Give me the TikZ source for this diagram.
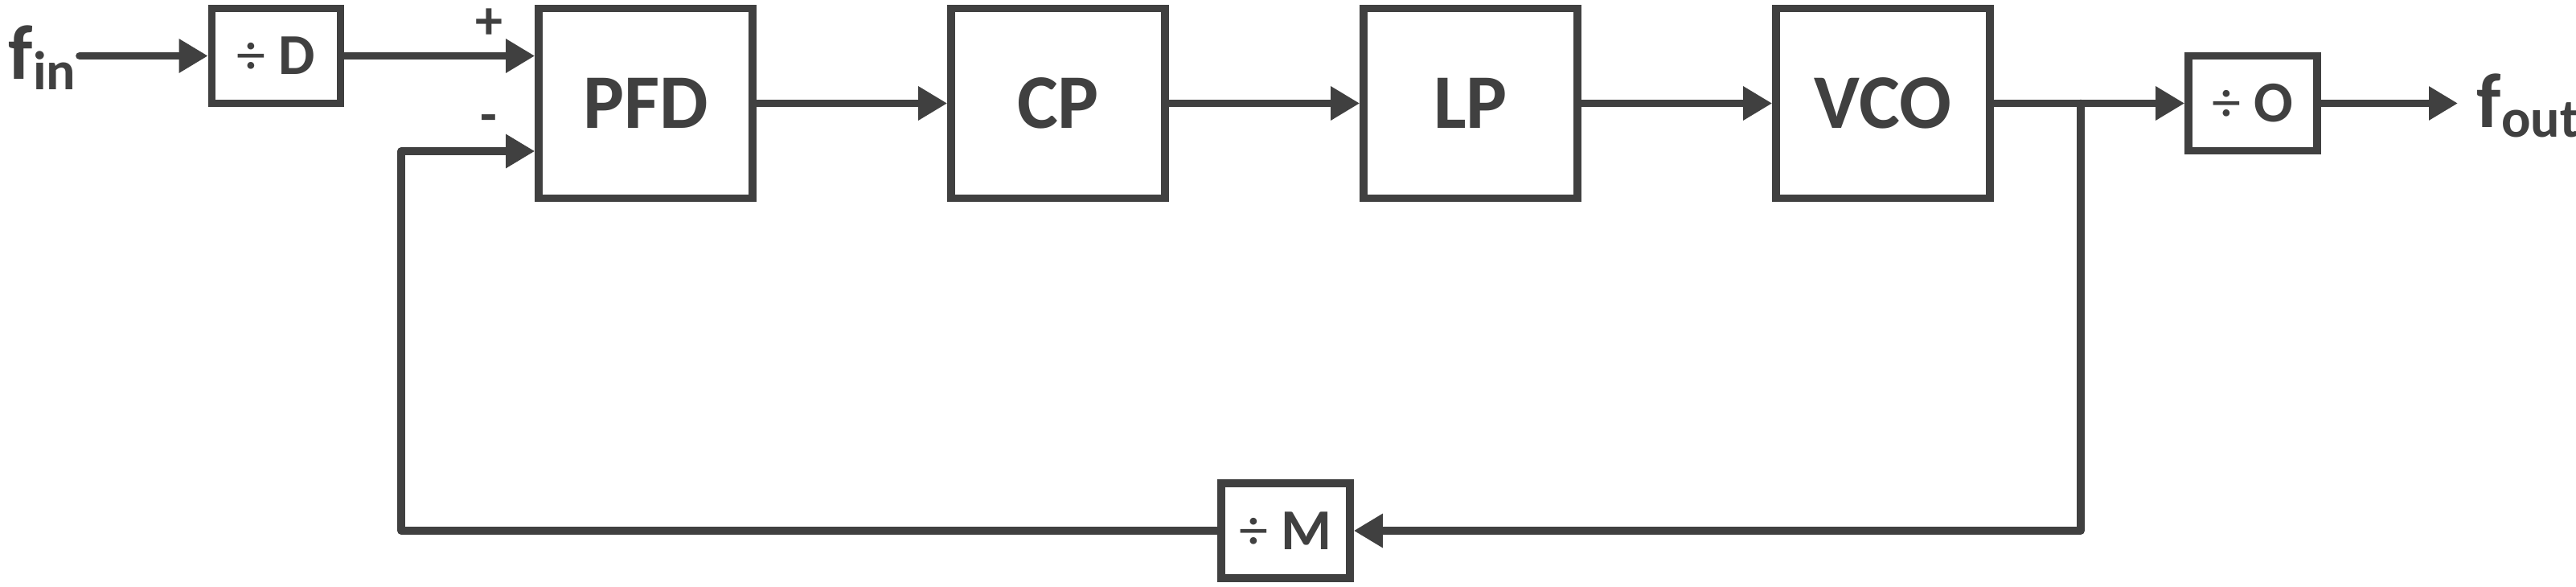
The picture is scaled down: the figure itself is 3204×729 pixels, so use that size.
\documentclass[tikz,border=0pt]{standalone}
\usepackage{fontspec}
\setmainfont{Carlito}
\usetikzlibrary{arrows.meta,calc}
\definecolor{ink}{HTML}{404040}
\begin{document}
\begin{tikzpicture}[x=0.25pt,y=-0.25pt,
  line width=2.4pt, draw=ink, color=ink,
  line join=round, line cap=round,
  >={Triangle[length=9pt,width=10pt]},
  bigbox/.style={draw=ink, line width=2.4pt, line cap=butt, line join=miter, minimum width=66.5pt, minimum height=59pt, inner sep=0pt,
    font=\fontsize{24}{28}\selectfont\bfseries},
  divbox/.style={draw=ink, line width=2.4pt, line cap=butt, line join=miter, minimum width=40pt, minimum height=29.5pt, inner sep=0pt,
    font=\fontsize{18}{22}\selectfont\bfseries},
  sign/.style={font=\fontsize{17}{20}\selectfont\bfseries, inner sep=0pt},
  flabel/.style={font=\fontsize{24}{28}\selectfont\bfseries, inner sep=0pt, anchor=base west}]
\useasboundingbox (0,0) rectangle (3204,729);
% blocks
\node[divbox] (dD) at (343.5,69.5) {{\mdseries ÷} D};
\node[bigbox] (pfd) at (803,128.5) {PFD};
\node[bigbox] (cp) at (1316,128.5) {CP};
\node[bigbox] (lp) at (1829,128.5) {LP};
\node[bigbox] (vco) at (2342,128.5) {VCO};
\node[divbox] (dO) at (2802,128.5) {{\mdseries ÷} O};
\node[divbox] (dM) at (1599,660) {{\mdseries ÷} M};
% labels
\node[flabel] (fin) at (6,98) {f\raisebox{-3.4pt}{\fontsize{17}{20}\selectfont\bfseries in}};
\node[flabel] (fout) at (3076,158) {f\raisebox{-3.2pt}{\fontsize{17}{20}\selectfont\bfseries out}};
\node[sign] (plus) at (608,30) {+};
\node[sign] (minus) at (608,154) {-};
% coordinates
\coordinate (fstart) at (99,69.5);
\coordinate (min) at ($(pfd.west)+(0,59.5)$);
\coordinate (br) at (2588,128.5);
\coordinate (brd) at (2588,660);
\coordinate (lc) at (499,660);
\coordinate (fend) at (3057,128.5);
% connectors
\draw[->] (fstart) -- (dD.west);
\draw[->] (dD.east) -- (dD.east -| pfd.west);
\draw[->] (pfd.east) -- (cp.west);
\draw[->] (cp.east) -- (lp.west);
\draw[->] (lp.east) -- (vco.west);
\draw[->] (vco.east) -- (dO.west);
\draw[->] (dO.east) -- (fend);
\draw[->] (br) -- (brd) -- (dM.east);
\draw[->] (dM.west) -- (lc) |- (min);
\end{tikzpicture}
\end{document}
